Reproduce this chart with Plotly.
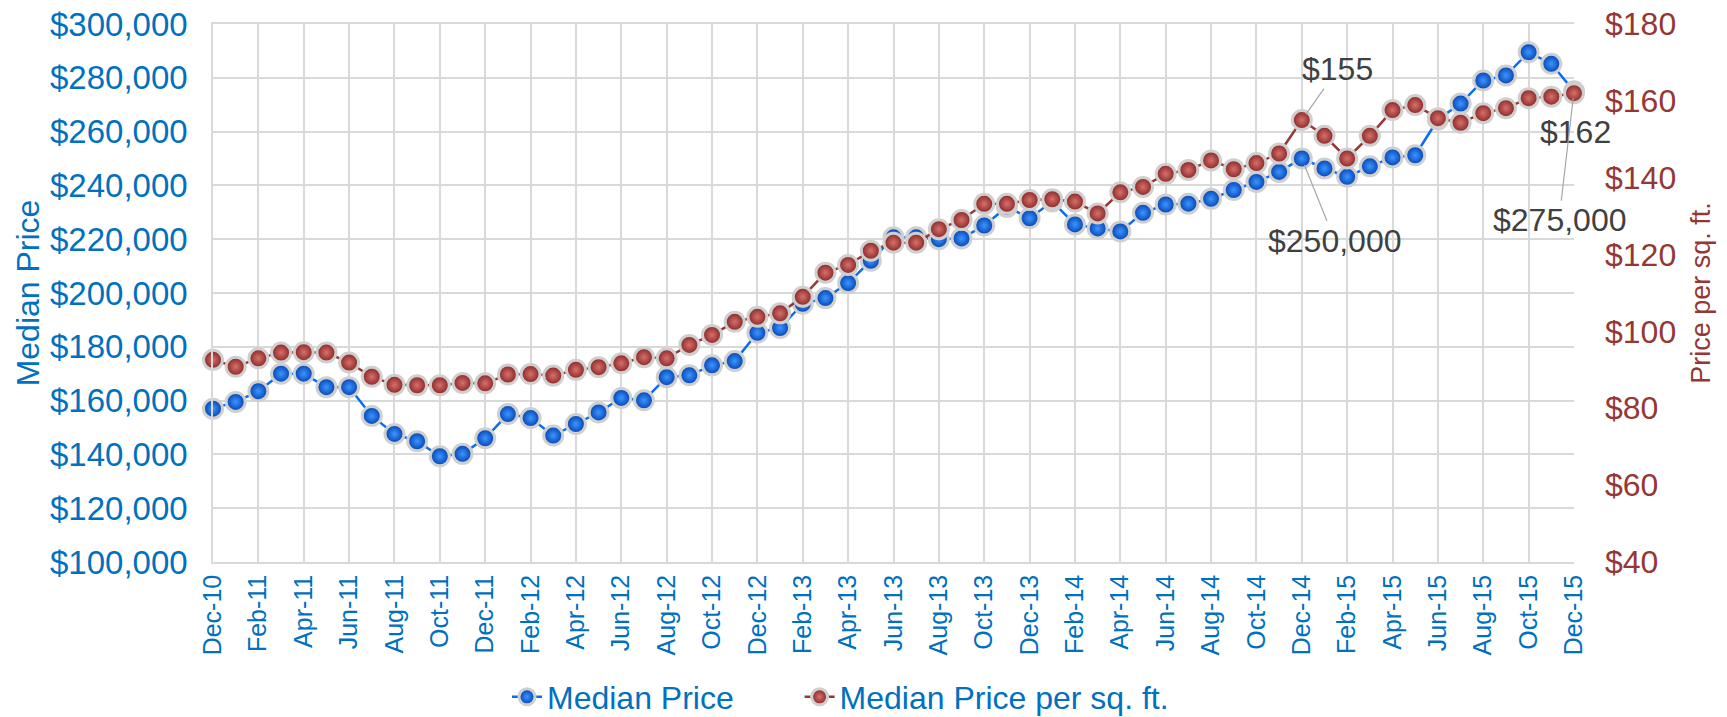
import plotly.graph_objects as go

months = [
    "Dec-10",
    "Jan-11", "Feb-11", "Mar-11", "Apr-11", "May-11", "Jun-11",
    "Jul-11", "Aug-11", "Sep-11", "Oct-11", "Nov-11", "Dec-11",
    "Jan-12", "Feb-12", "Mar-12", "Apr-12", "May-12", "Jun-12",
    "Jul-12", "Aug-12", "Sep-12", "Oct-12", "Nov-12", "Dec-12",
    "Jan-13", "Feb-13", "Mar-13", "Apr-13", "May-13", "Jun-13",
    "Jul-13", "Aug-13", "Sep-13", "Oct-13", "Nov-13", "Dec-13",
    "Jan-14", "Feb-14", "Mar-14", "Apr-14", "May-14", "Jun-14",
    "Jul-14", "Aug-14", "Sep-14", "Oct-14", "Nov-14", "Dec-14",
    "Jan-15", "Feb-15", "Mar-15", "Apr-15", "May-15", "Jun-15",
    "Jul-15", "Aug-15", "Sep-15", "Oct-15", "Nov-15", "Dec-15",
]

median_price = [
    157000,
    159500, 163500, 170000, 170000, 165000, 165000,
    154300, 147600, 144900, 139300, 140200, 146000,
    155000, 153500, 147000, 151300, 155600, 161000,
    160100, 168700, 169400, 173100, 174700, 185200,
    187000, 196000, 198100, 203700, 212000, 220700,
    220700, 220000, 220300, 225100, 232000, 227800,
    234000, 225500, 224000, 222900, 229800, 232900,
    233200, 235000, 238300, 241300, 245000, 250000,
    246300, 243200, 247100, 250400, 251200, 264500,
    270400, 279000, 280900, 289500, 285200, 275000,
]

price_per_sqft = [
    92.6,
    90.8, 93.0, 94.5, 94.6, 94.5, 91.9,
    88.2, 86.1, 86.0, 86.0, 86.6, 86.5,
    88.8, 88.9, 88.5, 90.0, 90.7, 91.7,
    93.3, 93.0, 96.5, 99.1, 102.5, 103.8,
    104.7, 109.0, 115.3, 117.3, 121.0, 123.1,
    123.1, 126.6, 129.0, 133.2, 133.2, 134.2,
    134.4, 133.8, 130.7, 136.2, 137.6, 141.0,
    142.0, 144.5, 142.2, 143.8, 146.3, 155.0,
    150.9, 145.0, 150.9, 157.6, 158.9, 155.5,
    154.3, 156.8, 158.1, 160.7, 161.1, 162.0,
]

tick_labels = months[::2]

FONT = "Liberation Sans, Arial, sans-serif"
BLUE_TXT = "#0070C0"
RED_TXT = "#953735"
GRID = "#D9D9D9"

fig = go.Figure()

fig.add_trace(go.Scatter(
    x=months, y=median_price, name="Median Price", mode="lines+markers",
    line=dict(color="#0A6CF5", width=2.5),
    marker=dict(size=19, color="#0040B0",
                gradient=dict(type="radial", color="#3D95FF"),
                line=dict(color="#CFCFCF", width=3)),
    cliponaxis=False, yaxis="y", legend="legend",
))

fig.add_trace(go.Scatter(
    x=months, y=price_per_sqft, name="Median Price per sq. ft.", mode="lines+markers",
    line=dict(color="#953735", width=2.5),
    marker=dict(size=19, color="#862422",
                gradient=dict(type="radial", color="#D6706B"),
                line=dict(color="#CFCFCF", width=3)),
    cliponaxis=False, yaxis="y2", legend="legend2",
))

ann_font = dict(family=FONT, size=32, color="#404040")
annotations = [
    dict(x="Dec-14", y=price_per_sqft[48], xref="x", yref="y2", text="$155",
         showarrow=True, arrowhead=0, arrowwidth=1.2, arrowcolor="#A6A6A6",
         ax=36, ay=-51, font=ann_font, standoff=7),
    dict(x="Dec-14", y=median_price[48], xref="x", yref="y", text="$250,000",
         showarrow=True, arrowhead=0, arrowwidth=1.2, arrowcolor="#A6A6A6",
         ax=33, ay=82, font=ann_font, standoff=7),
    dict(x="Dec-15", y=price_per_sqft[60], xref="x", yref="y2", text="$162",
         showarrow=True, arrowhead=0, arrowwidth=1.2, arrowcolor="rgba(0,0,0,0)",
         ax=1, ay=39, font=ann_font),
    dict(x="Dec-15", y=median_price[60], xref="x", yref="y", text="$275,000",
         showarrow=True, arrowhead=0, arrowwidth=1.2, arrowcolor="#A6A6A6",
         ax=-15, ay=129, font=ann_font, standoff=7),
]

legend_common = dict(orientation="h", y=-0.251, yanchor="middle", xanchor="left",
                     font=dict(family=FONT, size=32, color=BLUE_TXT),
                     bgcolor="rgba(0,0,0,0)")

fig.update_layout(
    width=1727, height=717,
    margin=dict(l=213, r=153, t=24, b=155, autoexpand=False),
    paper_bgcolor="white", plot_bgcolor="white",
    font=dict(family=FONT),
    showlegend=True,
    legend=dict(x=0.216, **legend_common),
    legend2=dict(x=0.431, **legend_common),
    annotations=annotations,
    xaxis=dict(
        type="category", range=[0, 60],
        tickmode="array", tickvals=tick_labels, ticktext=tick_labels,
        tickangle=-90, tickfont=dict(family=FONT, size=25, color=BLUE_TXT),
        showgrid=True, gridcolor=GRID, gridwidth=1.5,
        showline=True, linecolor=GRID, linewidth=1.5, mirror=True,
        ticks="", ticklen=0, ticklabelstandoff=1, automargin=False, zeroline=False,
    ),
    yaxis=dict(
        range=[100000, 300000], dtick=20000, tick0=100000,
        tickprefix="$", tickformat=",d",
        tickfont=dict(family=FONT, size=33, color=BLUE_TXT),
        title=dict(text="Median Price", standoff=1,
                   font=dict(family=FONT, size=32, color=BLUE_TXT)),
        showgrid=True, gridcolor=GRID, gridwidth=1.5,
        showline=True, linecolor=GRID, linewidth=1.5,
        ticks="", ticklen=0, ticklabelstandoff=17, automargin=False, zeroline=False,
        ticklabeloverflow="allow",
    ),
    yaxis2=dict(
        range=[40, 180], dtick=20, tick0=40, overlaying="y", side="right",
        tickprefix="$",
        tickfont=dict(family=FONT, size=32, color=RED_TXT),
        title=dict(text="Price per sq. ft.", font=dict(family=FONT, size=27, color=RED_TXT)),
        showgrid=False, ticks="", ticklen=0, ticklabelstandoff=30, automargin=False, zeroline=False,
        ticklabeloverflow="allow",
    ),
)

fig.write_html("out.html", config={"displayModeBar": False},
               post_script="document.body.style.margin='0';")
